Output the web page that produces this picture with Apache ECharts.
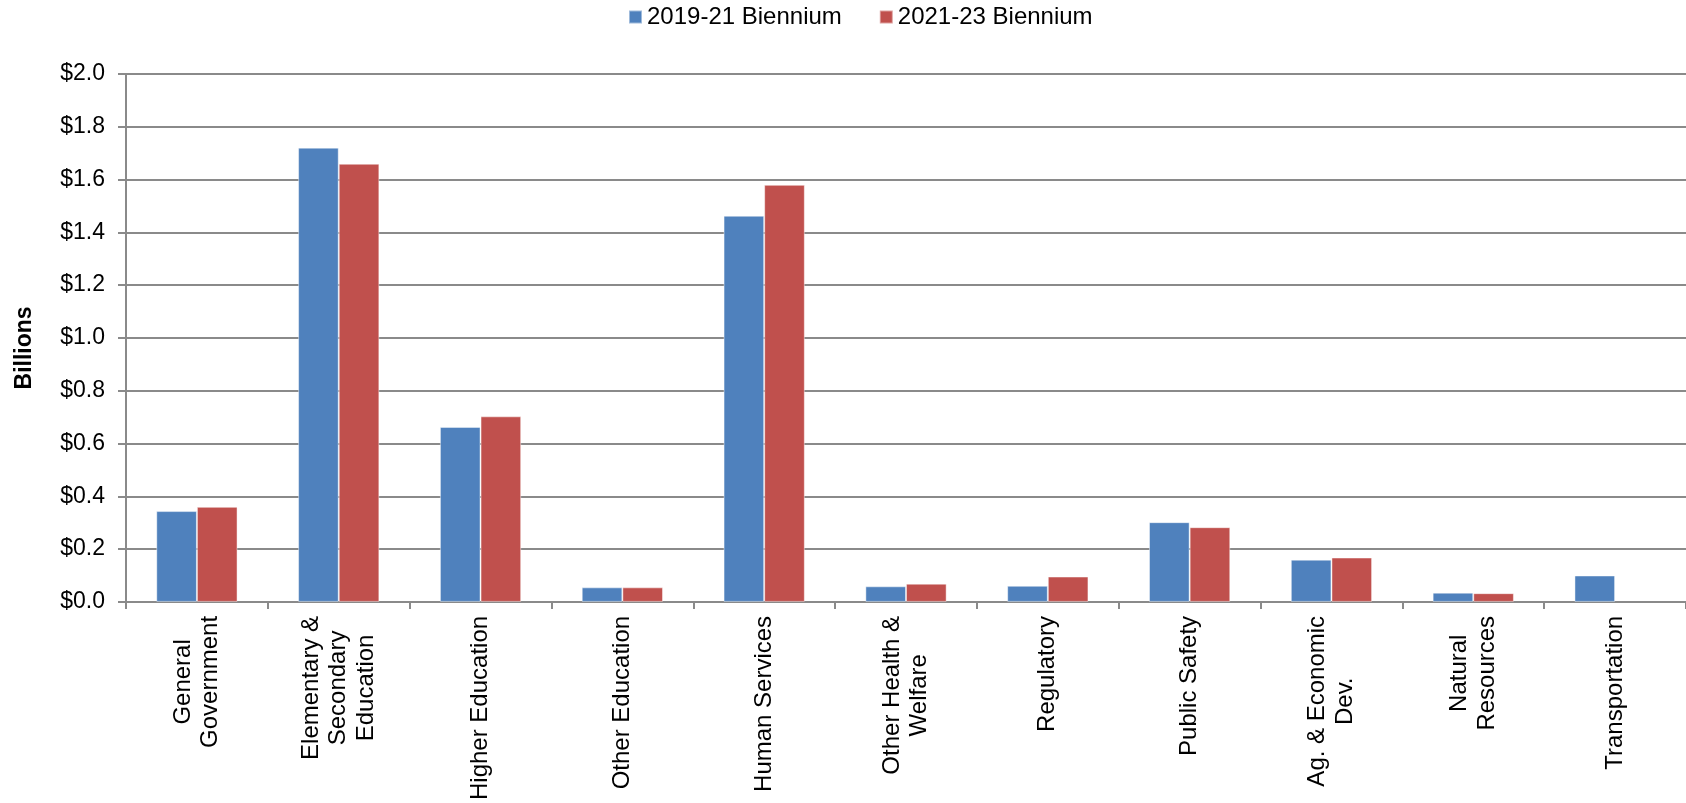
<!DOCTYPE html>
<html>
<head>
<meta charset="utf-8">
<script src="https://cdn.jsdelivr.net/npm/echarts@6/dist/echarts.min.js"></script>
<style>html,body{margin:0;padding:0;background:#fff}#c{width:1686px;height:803px}</style>
</head>
<body>
<div id="c"></div>
<script>
const categories = ["General\nGovernment", "Elementary &\nSecondary\nEducation", "Higher Education", "Other Education", "Human Services", "Other Health &\nWelfare", "Regulatory", "Public Safety", "Ag. & Economic\nDev.", "Natural\nResources", "Transportation"];
const seriesNames = ["2019-21 Biennium", "2021-23 Biennium"];
const values2019 = [0.344, 1.721, 0.663, 0.055, 1.463, 0.059, 0.061, 0.302, 0.160, 0.035, 0.100];
const values2021 = [0.360, 1.660, 0.703, 0.055, 1.580, 0.069, 0.096, 0.283, 0.168, 0.033, null];
const yTicks = {min: 0, max: 2.0, interval: 0.2};

const FONT = "'Liberation Sans', Arial, sans-serif";
const GRAY = '#8a8a8a';
const chart = echarts.init(document.getElementById('c'), null, {renderer: 'canvas'});
chart.setOption({
  animation: false,
  backgroundColor: '#fff',
  textStyle: {fontFamily: FONT},
  legend: {
    data: seriesNames,
    left: 628, top: 5, padding: 0,
    itemWidth: 13, itemHeight: 13, itemGap: 37,
    icon: 'rect',
    textStyle: {fontSize: 24, color: '#000', fontFamily: FONT}
  },
  grid: {left: 126, right: 0, top: 74, bottom: 197, containLabel: false},
  xAxis: {
    type: 'category',
    data: categories,
    axisLine: {lineStyle: {color: GRAY, width: 2}},
    axisTick: {show: true, length: 7, lineStyle: {color: GRAY, width: 2}, alignWithLabel: false},
    axisLabel: {
      interval: 0, rotate: 90, margin: 14,
      formatter: v => v.split('\n').map(l => '{c|' + l + '}').join('\n'),
      rich: {c: {align: 'center', fontSize: 24, lineHeight: 27.5, color: '#000', fontFamily: FONT}}
    }
  },
  yAxis: {
    type: 'value',
    min: yTicks.min, max: yTicks.max, interval: yTicks.interval,
    name: 'Billions', nameLocation: 'middle', nameRotate: 90, nameGap: 90,
    nameTextStyle: {fontSize: 23, fontWeight: 'bold', color: '#000', fontFamily: FONT, padding: [0, 20, 0, 0]},
    axisLine: {show: true, lineStyle: {color: GRAY, width: 2}},
    axisTick: {show: true, length: 8, lineStyle: {color: GRAY, width: 2}},
    splitLine: {show: true, lineStyle: {color: GRAY, width: 2}},
    axisLabel: {
      margin: 21, fontSize: 23, color: '#000', fontFamily: FONT,
      formatter: v => '$' + v.toFixed(1)
    }
  },
  series: [
    {name: seriesNames[0], type: 'bar', data: values2019, barGap: '0%', barCategoryGap: '42.7%',
     itemStyle: {color: '#4F81BD', borderColor: 'rgba(255,255,255,0.45)', borderWidth: 1}},
    {name: seriesNames[1], type: 'bar', data: values2021, barGap: '0%', barCategoryGap: '42.7%',
     itemStyle: {color: '#C0504D', borderColor: 'rgba(255,255,255,0.45)', borderWidth: 1}}
  ]
});
</script>
</body>
</html>
